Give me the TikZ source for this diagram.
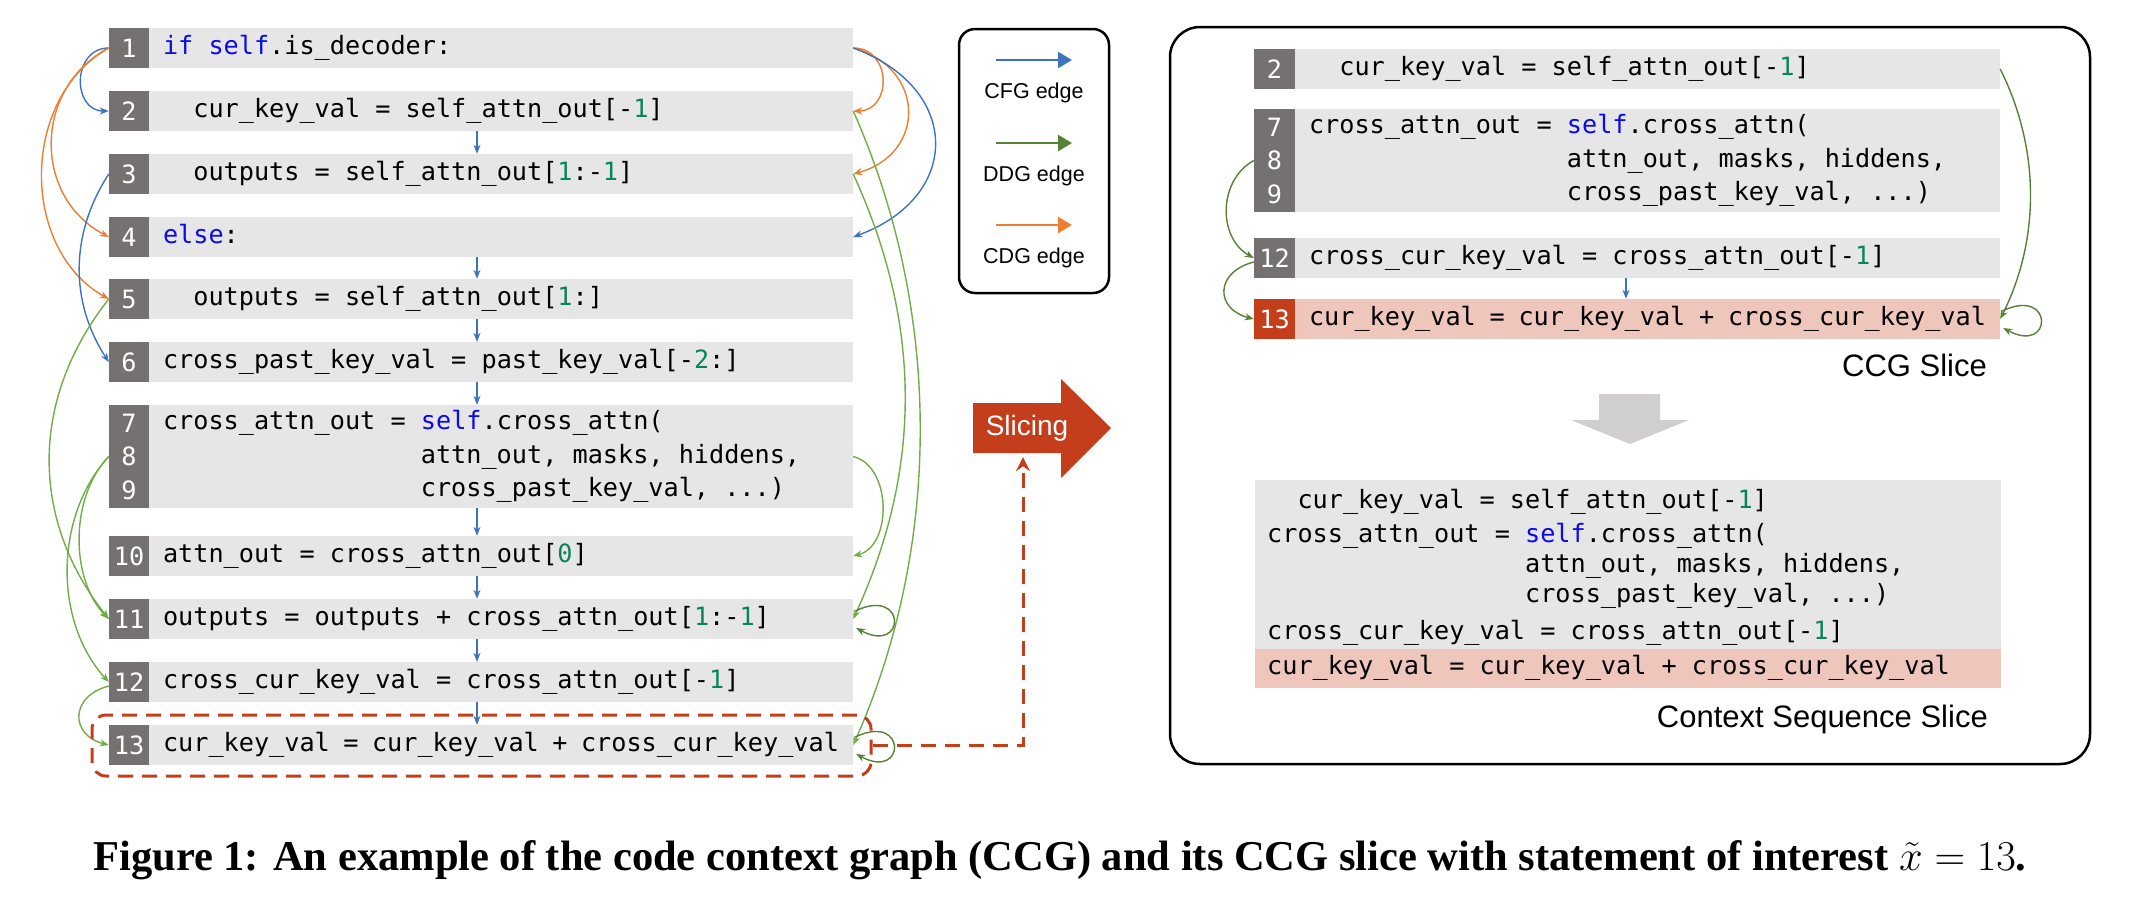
\RequirePackage{fix-cm}
\documentclass[tikz,border=0pt]{standalone}
\usepackage{fontspec}
\setmainfont{Liberation Serif}
\setsansfont{Liberation Sans}
\newfontfamily\codefam{DejaVu Sans Mono}
\usetikzlibrary{arrows.meta}

\definecolor{numgray}{RGB}{118,113,113}
\definecolor{bargray}{RGB}{231,230,230}
\definecolor{kwblue}{RGB}{10,10,235}
\definecolor{numgreen}{RGB}{9,134,88}
\definecolor{cfgblue}{RGB}{60,115,190}
\definecolor{ddggreen}{RGB}{112,173,71}
\definecolor{ddgdark}{RGB}{84,130,53}
\definecolor{cdgorange}{RGB}{237,125,49}
\definecolor{hlred}{RGB}{196,62,28}
\definecolor{hlpink}{RGB}{239,198,188}
\definecolor{downgray}{RGB}{208,206,206}

\newcommand\codefont{\codefam\fontsize{25.2}{33.5}\selectfont}
\newcommand\ctxfont{\codefam\fontsize{25.2}{30}\selectfont}
\newcommand\kw[1]{\textcolor{kwblue}{#1}}
\newcommand\nm[1]{\textcolor{numgreen}{#1}}
\newlength\cwid
\setlength{\cwid}{15.17pt}
\newcommand\indcols[1]{\hspace*{#1\cwid}}

\tikzset{
  numbox/.style={fill=numgray,text=white,font=\codefont,minimum width=40pt,minimum height=40pt,inner sep=0pt,align=center},
  hlnum/.style={numbox,fill=hlred},
  bar/.style={fill=bargray,font=\codefont,text width=676pt,inner xsep=14pt,inner ysep=0pt,minimum height=40pt,align=flush left,
    execute at begin node={\spaceskip=0pt\xspaceskip=0pt\strut}},
  sbar/.style={bar,text width=677pt},
  ctxline/.style={font=\ctxfont,anchor=west,inner sep=0pt,align=left,execute at begin node=\strut},
  cfg/.style={draw=cfgblue,line width=1.4pt,-{Stealth[length=9pt,width=7pt]}},
  ddg/.style={draw=ddggreen,line width=1.4pt,-{Stealth[length=9pt,width=7pt]}},
  ddgd/.style={draw=ddgdark,line width=1.4pt,-{Stealth[length=9pt,width=7pt]}},
  cdg/.style={draw=cdgorange,line width=1.4pt,-{Stealth[length=9pt,width=7pt]}},
  legarrow/.style={line width=2.5pt,-{Triangle[length=14pt,width=16pt]}},
  legtext/.style={font=\sffamily\fontsize{21.5}{26}\selectfont,inner sep=0pt},
  paneltitle/.style={font=\sffamily\fontsize{31}{36}\selectfont,inner sep=0pt,anchor=east},
}

\begin{document}
\begin{tikzpicture}[x=1pt,y=-1pt]
\useasboundingbox (0,0) rectangle (2144,906);

% left panel: code with line numbers
\node[numbox] (n1) at (129,48) {1};
\node[bar] (r1) at (501,48) {\kw{if} \kw{self}.is\_decoder:};
\node[numbox] (n2) at (129,111) {2};
\node[bar] (r2) at (501,111) {\indcols{2}cur\_key\_val = self\_attn\_out[-\nm{1}]};
\node[numbox] (n3) at (129,174) {3};
\node[bar] (r3) at (501,174) {\indcols{2}outputs = self\_attn\_out[\nm{1}:-\nm{1}]};
\node[numbox] (n4) at (129,237) {4};
\node[bar] (r4) at (501,237) {\kw{else}:};
\node[numbox] (n5) at (129,299) {5};
\node[bar] (r5) at (501,299) {\indcols{2}outputs = self\_attn\_out[\nm{1}:]};
\node[numbox] (n6) at (129,362) {6};
\node[bar] (r6) at (501,362) {cross\_past\_key\_val = past\_key\_val[-\nm{2}:]};
\node[numbox,minimum height=103pt] (n7) at (129,456.5) {7\\8\\9};
\node[bar,minimum height=103pt] (r7) at (501,456.5) {cross\_attn\_out = \kw{self}.cross\_attn(\\
  \indcols{17}attn\_out, masks, hiddens,\\
  \indcols{17}cross\_past\_key\_val, ...)\strut};
\node[numbox] (n10) at (129,556) {10};
\node[bar] (r10) at (501,556) {attn\_out = cross\_attn\_out[\nm{0}]};
\node[numbox] (n11) at (129,619) {11};
\node[bar] (r11) at (501,619) {outputs = outputs + cross\_attn\_out[\nm{1}:-\nm{1}]};
\node[numbox] (n12) at (129,682) {12};
\node[bar] (r12) at (501,682) {cross\_cur\_key\_val = cross\_attn\_out[-\nm{1}]};
\node[numbox] (n13) at (129,745) {13};
\node[bar] (r13) at (501,745) {cur\_key\_val = cur\_key\_val + cross\_cur\_key\_val};

% control flow down the code
\coordinate (cx) at (477,0);
\foreach \a/\b in {r2/r3,r4/r5,r5/r6,r6/r7,r7/r10,r10/r11,r11/r12,r12/r13}
  \draw[cfg,line width=1.2pt] (\a.south -| cx) -- (\b.north -| cx);

% edges on the left
\draw[cfg] (n1.west) .. controls +(-37,0) and +(-37,0) .. (n2.west);
\draw[cdg] (n1.west) .. controls +(-76,40) and +(-76,-40) .. (n4.west);
\draw[cdg] (n1.west) .. controls +(-89,50) and +(-89,-50) .. (n5.west);
\draw[cfg] (n3.west) .. controls +(-39,60) and +(-39,-60) .. (n6.west);
\draw[ddg] (n5.west) .. controls +(-79,100) and +(-79,-100) .. (n11.west);
\draw[ddg] (n7.west) .. controls +(-39,40) and +(-39,-40) .. (n11.west);
\draw[ddg] (n7.west) .. controls +(-55,60) and +(-55,-60) .. (n12.west);
\draw[ddg] ([shift={(0,4)}]n12.west) .. controls +(-39,10) and +(-39,-10) .. (n13.west);

% edges on the right
\draw[cdg] (r1.east) .. controls +(39,0) and +(39,0) .. (r2.east);
\draw[cdg] (r1.east) .. controls +(73,20) and +(73,-20) .. (r3.east);
\draw[cfg] (r1.east) .. controls +(109,40) and +(109,-40) .. (r4.east);
\draw[ddg] (r2.east) .. controls +(89,200) and +(89,-200) .. (r13.east);
\draw[ddg] (r3.east) .. controls +(69,150) and +(69,-150) .. (r11.east);
\draw[ddg] (r7.east) .. controls +(39,10) and +(39,-10) .. (r10.east);
\draw[ddgd] ([shift={(2,-8)}]r11.east) .. controls +(52,-25) and +(50,27) .. ([shift={(3,9)}]r11.east);
\draw[ddgd] ([shift={(2,-8)}]r13.east) .. controls +(52,-25) and +(50,27) .. ([shift={(3,9)}]r13.east);

% statement of interest
\node[draw=hlred,line width=3pt,dash pattern=on 15pt off 9pt,rounded corners=14pt,minimum width=779pt,minimum height=61pt] (hl) at (481.5,745.5) {};

% legend
\node[draw,line width=2.5pt,rounded corners=16pt,minimum width=150pt,minimum height=264pt] (legend) at (1034,161) {};
\draw[legarrow,cfgblue] (996,60) -- (1072,60);
\node[legtext] (lcfg) at (1034,93) {CFG edge};
\draw[legarrow,ddgdark] (996,143) -- (1072,143);
\node[legtext] (lddg) at (1034,176) {DDG edge};
\draw[legarrow,cdgorange] (996,225) -- (1072,225);
\node[legtext] (lcdg) at (1034,258) {CDG edge};

% slicing arrow
\fill[hlred] (973,403) -- (1061,403) -- (1061,379) -- (1111,428) -- (1061,478) -- (1061,453) -- (973,453) -- cycle;
\node[text=white,font=\sffamily\fontsize{28}{32}\selectfont,minimum height=50pt,inner sep=0pt] (slice) at (1027,428) {Slicing};
\draw[hlred,line width=3pt,dash pattern=on 15pt off 9pt,-{Stealth[length=14pt,width=14pt,inset=5pt]}] (hl.east) -| ([shift={(-4,4)}]slice.south);

% right panel
\draw[line width=2.5pt,rounded corners=30pt] (1170,27) rectangle (2090,764);
\node[numbox,minimum width=41pt] (sn2) at (1274.5,69) {2};
\node[sbar] (s2) at (1647.5,69) {\indcols{2}cur\_key\_val = self\_attn\_out[-\nm{1}]};
\node[numbox,minimum width=41pt,minimum height=103pt] (sn7) at (1274.5,160.5) {7\\8\\9};
\node[sbar,minimum height=103pt] (s7) at (1647.5,160.5) {cross\_attn\_out = \kw{self}.cross\_attn(\\
  \indcols{17}attn\_out, masks, hiddens,\\
  \indcols{17}cross\_past\_key\_val, ...)\strut};
\node[numbox,minimum width=41pt] (sn12) at (1274.5,258) {12};
\node[sbar] (s12) at (1647.5,258) {cross\_cur\_key\_val = cross\_attn\_out[-\nm{1}]};
\node[hlnum,minimum width=41pt] (sn13) at (1274.5,319) {13};
\node[sbar,fill=hlpink] (s13) at (1647.5,319) {cur\_key\_val = cur\_key\_val + cross\_cur\_key\_val};

\coordinate (cxr) at (1626,0);
\draw[cfg,line width=1.2pt] (s12.south -| cxr) -- (s13.north -| cxr);
\draw[ddgd] (sn7.west) .. controls +(-36,20) and +(-36,-20) .. (sn12.west);
\draw[ddgd] ([shift={(0,4)}]sn12.west) .. controls +(-39,10) and +(-39,-10) .. (sn13.west);
\draw[ddgd] (s2.east) .. controls +(40,80) and +(40,-80) .. (s13.east);
\draw[ddgd] ([shift={(2,-8)}]s13.east) .. controls +(52,-25) and +(50,27) .. ([shift={(3,9)}]s13.east);

\node[paneltitle] (ccglab) at (1987,365) {CCG Slice};
\fill[downgray] (1599,394) -- (1660,394) -- (1660,420) -- (1689,420) -- (1630,444) -- (1571,420) -- (1599,420) -- cycle;

% context sequence
\node[fill=bargray,minimum width=746.5pt,minimum height=169pt,inner sep=0pt] (ctx) at (1628,564.5) {};
\node[fill=hlpink,minimum width=746.5pt,minimum height=39pt,inner sep=0pt] (ctx13) at (1628,668.5) {};
\node[ctxline] (c2) at (1267,502) {\indcols{2}cur\_key\_val = self\_attn\_out[-\nm{1}]};
\node[ctxline] (c7) at (1267,567) {cross\_attn\_out = \kw{self}.cross\_attn(\\
  \indcols{17}attn\_out, masks, hiddens,\\
  \indcols{17}cross\_past\_key\_val, ...)\strut};
\node[ctxline] (c12) at (1267,633) {cross\_cur\_key\_val = cross\_attn\_out[-\nm{1}]};
\node[ctxline] (c13) at (1267,668) {cur\_key\_val = cur\_key\_val + cross\_cur\_key\_val};
\node[paneltitle] (ctxlab) at (1988,719) {Context Sequence Slice};

% caption
\node[font=\fontsize{42.5}{50}\selectfont\bfseries,inner sep=0pt] (caption) at (1060,860)
  {Figure 1: An example of the code context graph (CCG) and its CCG slice with statement of interest $\tilde{x}=13$.};
\end{tikzpicture}
\end{document}
